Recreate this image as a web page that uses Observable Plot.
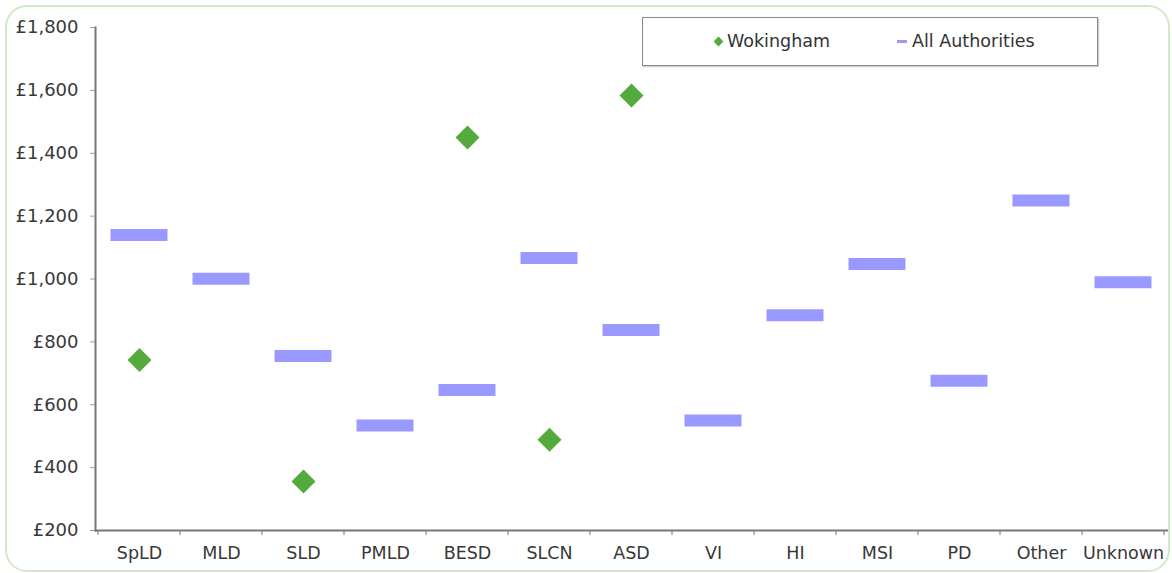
<!DOCTYPE html>
<html>
<head>
<meta charset="utf-8">
<script src="https://cdn.jsdelivr.net/npm/d3@7"></script>
<script src="https://cdn.jsdelivr.net/npm/@observablehq/plot@0.6"></script>
<style>
  html, body { margin: 0; padding: 0; background: #fff; }
  #wrap { position: relative; width: 1172px; height: 573px; overflow: hidden; font-family: "DejaVu Sans", Verdana, sans-serif; }
  #border { position: absolute; left: 5px; top: 5px; width: 1161px; height: 563px; border: 2px solid #d0eac6; border-radius: 22px; pointer-events: none; }
  #legend { position: absolute; left: 642px; top: 17px; width: 454px; height: 47px; border: 1px solid #8a8a8a; box-shadow: 1px 1px 1px #ccc; background: #fff; font-size: 17.5px; color: #333; }
  .li { position: absolute; top: 12px; line-height: 22px; white-space: nowrap; }
  .dia { display: inline-block; width: 7px; height: 7px; background: #55aa3d; transform: rotate(45deg); position: absolute; left: -12px; top: 8px; }
  .dash { display: inline-block; width: 10px; height: 3px; background: #9999ff; position: absolute; left: -15px; top: 10px; }
</style>
</head>
<body>
<div id="wrap">
  <div id="chart"></div>
  <div id="legend"></div>
  <div id="border"></div>
</div>
<script>
const categories = ["SpLD", "MLD", "SLD", "PMLD", "BESD", "SLCN", "ASD", "VI", "HI", "MSI", "PD", "Other", "Unknown"];
const allAuthorities = [1140, 1001, 755, 534, 647, 1067, 838, 550, 885, 1048, 676, 1250, 990];
const wokinghamCats = ["SpLD", "SLD", "BESD", "SLCN", "ASD"];
const wokinghamValues = [742, 356, 1450, 489, 1584];
const yTicks = [200, 400, 600, 800, 1000, 1200, 1400, 1600, 1800];
const seriesNames = ["Wokingham", "All Authorities"];

const allData = categories.map((c, i) => ({cat: c, value: allAuthorities[i]}));
const wokData = wokinghamCats.map((c, i) => ({cat: c, value: wokinghamValues[i]}));

function boundaryTicks(index, scales, values, dims) {
  const x = scales.x;
  const bw = (x && x.bandwidth) ? x.bandwidth() : (dims.width - dims.marginLeft - dims.marginRight) / categories.length;
  const y0 = dims.height - dims.marginBottom;
  const xs = categories.map(c => x(c) - (x.bandwidth ? 0 : bw / 2)).concat([x(categories[categories.length - 1]) + (x.bandwidth ? bw : bw / 2)]);
  const g = d3.create("svg:g");
  g.selectAll("line").data(xs).join("line")
    .attr("x1", d => d).attr("x2", d => d)
    .attr("y1", y0).attr("y2", y0 + 5)
    .attr("stroke", "#a0a0a0").attr("stroke-width", 1.5);
  return g.node();
}

const fmt = d3.format(",");
const plot = Plot.plot({
  width: 1172,
  height: 573,
  marginLeft: 95,
  marginRight: 5,
  marginTop: 27,
  marginBottom: 43,
  style: {fontFamily: "'DejaVu Sans', Verdana, sans-serif", fontSize: "17.5px", color: "#333", background: "transparent", overflow: "visible"},
  x: {type: "band", domain: categories, padding: 0, axis: null},
  y: {domain: [200, 1800], axis: null},
  marks: [
    Plot.axisY({ticks: yTicks, tickFormat: d => "£" + fmt(d), tickSize: 5, tickPadding: 12, stroke: "#a0a0a0", fill: "#383838", fontSize: 18, label: null}),
    Plot.axisX({domain: categories, tickSize: 0, tickPadding: 16, fill: "#383838", label: null}),
    boundaryTicks,
    Plot.frame({anchor: "left", stroke: "#777", strokeWidth: 2}),
    Plot.frame({anchor: "bottom", stroke: "#777", strokeWidth: 2}),
    Plot.tickY(allData, {x: "cat", y: "value", stroke: "#9999ff", strokeWidth: 12, insetLeft: 12.5, insetRight: 12.5}),
    Plot.dot(wokData, {x: "cat", y: "value", symbol: "diamond2", r: 10.8, fill: "#55aa3d", stroke: "none"})
  ]
});
document.getElementById("chart").appendChild(plot);

const legend = document.getElementById("legend");
legend.innerHTML =
  `<div class="li" style="left:84px"><span class="dia"></span>${seriesNames[0]}</div>` +
  `<div class="li" style="left:269px"><span class="dash"></span>${seriesNames[1]}</div>`;
</script>
</body>
</html>
